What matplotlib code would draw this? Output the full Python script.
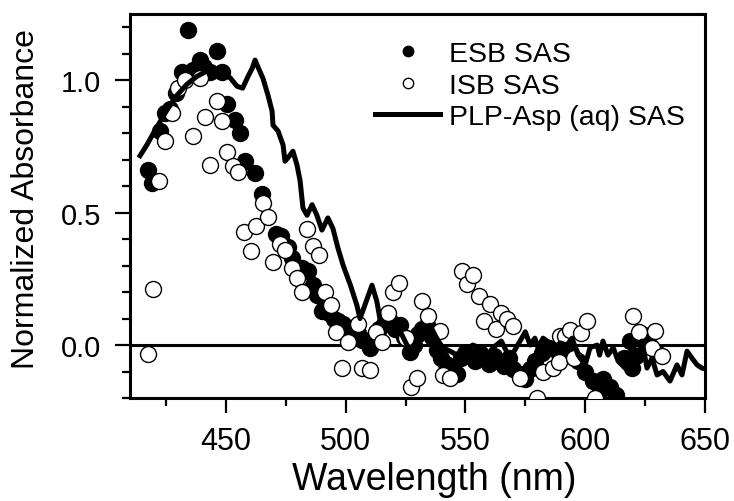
import matplotlib
matplotlib.use("Agg")
import matplotlib.pyplot as plt
from matplotlib.ticker import MultipleLocator, FormatStrFormatter

plt.rcParams["font.family"] = ["Liberation Sans", "DejaVu Sans"]

# ESB SAS (filled circles)
esb_wl = [417.5, 419.2, 422.5, 424.6, 426.5, 429.0, 431.7, 434.2, 436.5, 439.2,
          441.0, 443.4, 446.3, 448.4, 450.5, 453.8, 455.9, 458.0, 462.2, 465.1,
          471.0, 473.0, 476.0, 477.6, 481.8, 484.3, 486.4, 488.0, 490.0, 491.5,
          493.0, 495.0, 497.0, 499.0, 501.0, 503.0, 505.0, 507.0, 510.0, 512.0,
          514.0, 516.0, 518.5, 520.5, 522.7, 524.5, 526.9, 528.5, 530.0, 532.0,
          534.0, 536.0, 538.0, 540.0, 542.0, 544.0, 546.5, 548.0, 550.0, 552.0,
          554.0, 556.0, 558.0, 560.0, 562.0, 564.0, 566.0, 568.0, 570.0, 572.8,
          575.0, 577.0, 579.0, 582.0, 585.0, 588.0, 591.0, 594.0, 597.0, 600.0,
          603.3, 606.0, 607.4, 610.3, 613.0, 616.0, 618.7, 619.5, 621.0, 623.7,
          627.0, 630.0]
esb_abs = [0.66, 0.61, 0.81, 0.875, 0.89, 0.95, 1.03, 1.19, 1.04, 1.075,
           1.05, 1.03, 1.11, 1.03, 0.91, 0.85, 0.80, 0.695, 0.65, 0.57,
           0.42, 0.41, 0.37, 0.33, 0.29, 0.28, 0.225, 0.19, 0.13, 0.15,
           0.12, 0.10, 0.09, 0.08, 0.06, 0.04, 0.045, 0.02, -0.01, 0.03,
           0.06, 0.08, 0.09, 0.06, 0.075, 0.03, -0.025, 0.0, 0.04, 0.06,
           0.075, 0.03, -0.02, -0.05, -0.07, -0.09, -0.11, -0.05, -0.03, -0.04,
           -0.06, -0.03, -0.05, -0.07, -0.04, -0.06, -0.08, -0.05, -0.09, -0.11,
           -0.13, -0.09, -0.06, -0.03, -0.01, -0.02, 0.0, -0.03, -0.06, -0.10,
           -0.135, -0.175, -0.13, -0.16, -0.19, -0.05, 0.015, -0.085, -0.04, 0.04,
           -0.005, -0.03]

# ISB SAS (open circles)
isb_wl = [417.5, 419.6, 422.1, 424.6, 427.5, 430.0, 433.0, 436.3, 439.2, 441.3,
          443.4, 446.3, 448.4, 450.5, 453.0, 455.0, 457.6, 460.5, 462.6, 465.5,
          467.6, 469.7, 472.6, 474.7, 477.6, 479.7, 481.8, 483.9, 486.4, 489.0,
          491.4, 493.9, 496.0, 498.5, 501.0, 505.0, 507.0, 510.0, 512.7, 515.0,
          517.7, 519.8, 522.3, 525.2, 527.3, 529.8, 532.0, 534.2, 539.4, 540.6,
          543.6, 548.6, 550.6, 553.2, 555.7, 557.7, 560.3, 562.7, 564.8, 567.3,
          569.8, 572.8, 580.0, 582.4, 586.5, 589.0, 589.5, 591.5, 593.6, 595.3,
          598.2, 600.7, 604.0, 620.0, 622.4, 627.9, 629.0, 632.0]
isb_abs = [-0.035, 0.21, 0.62, 0.77, 0.875, 0.97, 1.0, 0.79, 1.01, 0.86,
           0.68, 0.92, 0.845, 0.73, 0.675, 0.655, 0.425, 0.355, 0.45, 0.535,
           0.485, 0.315, 0.38, 0.36, 0.29, 0.255, 0.20, 0.44, 0.375, 0.34,
           0.20, 0.15, 0.05, -0.085, 0.01, 0.08, -0.085, -0.095, 0.05, 0.01,
           0.12, 0.20, 0.235, 0.025, -0.16, -0.125, 0.165, 0.11, 0.053, -0.115,
           -0.125, 0.28, 0.23, 0.265, 0.185, 0.09, 0.155, 0.06, 0.12, 0.10,
           0.07, -0.125, -0.2, -0.10, -0.085, -0.065, 0.035, 0.035, 0.057, -0.05,
           0.045, 0.09, -0.2, 0.11, 0.05, -0.01, 0.053, -0.04]

# PLP-Asp (aq) SAS (line)
plp_wl = [414.2, 417.0, 420.4, 425.4, 429.6, 433.8, 438.0, 442.0, 447.6, 451.7,
          454.7, 457.0, 459.3, 461.0, 462.2, 463.4, 465.5, 467.6, 469.3, 469.7,
          471.8, 473.9, 474.7, 476.8, 478.0, 479.7, 481.0, 482.2, 483.9, 486.0,
          488.0, 490.1, 492.6, 494.7, 496.8, 499.0, 502.0, 504.7, 506.0, 508.0,
          511.0, 513.0, 514.3, 516.4, 519.3, 522.7, 525.6, 528.0, 530.2, 532.3,
          535.2, 538.0, 540.6, 543.6, 546.5, 550.6, 553.0, 556.0, 559.0, 561.5,
          565.0, 568.6, 572.8, 575.0, 577.0, 579.0, 580.3, 582.4, 585.3, 587.4,
          589.5, 592.4, 594.5, 597.0, 600.0, 602.0, 605.0, 606.0, 607.4, 609.5,
          611.7, 613.7, 616.6, 619.5, 621.6, 623.7, 625.8, 627.9, 630.0, 632.5,
          635.4, 638.3, 640.4, 642.5, 644.6, 646.7, 648.7, 650.0]
plp_abs = [0.715, 0.755, 0.81, 0.887, 0.943, 0.985, 1.015, 1.034, 1.026, 1.01,
           0.977, 0.97, 1.015, 1.045, 1.076, 1.05, 1.007, 0.943, 0.883, 0.83,
           0.808, 0.755, 0.694, 0.717, 0.732, 0.68, 0.62, 0.517, 0.49, 0.53,
           0.49, 0.434, 0.48, 0.44, 0.366, 0.30, 0.226, 0.15, 0.10, 0.15,
           0.226, 0.166, 0.10, 0.075, 0.064, 0.053, 0.0, -0.023, 0.038, 0.064,
           0.075, 0.026, -0.011, -0.023, -0.038, -0.023, 0.0, -0.01, -0.04, -0.01,
           0.015, -0.05, 0.015, 0.05, 0.0, 0.026, -0.01, 0.026, 0.008, -0.01,
           0.008, 0.0, 0.026, -0.038, -0.075, -0.01, 0.0, -0.038, 0.015, -0.038,
           -0.01, -0.06, -0.087, 0.0, -0.06, 0.015, -0.087, -0.05, -0.113, -0.1,
           -0.136, -0.075, -0.113, -0.023, -0.05, -0.075, -0.087, -0.09]

fig = plt.figure(figsize=(7.34, 5.02), dpi=100)
ax = fig.add_axes([130 / 734, 1 - 399 / 502, 575 / 734, 384 / 502])

ax.axhline(0.0, color="black", lw=2.2, zorder=1)
ax.plot(esb_wl, esb_abs, "o", ms=11.5, mfc="black", mec="black", mew=1.0,
        label="ESB SAS", zorder=2)
ax.plot(isb_wl, isb_abs, "o", ms=11.5, mfc="white", mec="black", mew=1.0,
        label="ISB SAS", zorder=3)
ax.plot(plp_wl, plp_abs, "-", color="black", lw=3.6,
        label="PLP-Asp (aq) SAS", zorder=4)

ax.set_xlim(410, 650)
ax.set_ylim(-0.2, 1.25)
ax.xaxis.set_major_locator(MultipleLocator(50))
ax.xaxis.set_minor_locator(MultipleLocator(25))
ax.yaxis.set_major_locator(MultipleLocator(0.5))
ax.yaxis.set_minor_locator(MultipleLocator(0.1))
ax.yaxis.set_major_formatter(FormatStrFormatter("%.1f"))

for sp in ax.spines.values():
    sp.set_linewidth(2.2)
ax.tick_params(which="major", direction="out", length=11, width=1.6)
ax.tick_params(which="minor", direction="out", length=6, width=1.6)
ax.tick_params(axis="x", which="major", labelsize=22, pad=9)
ax.tick_params(axis="y", which="major", labelsize=21, pad=10)

ax.set_xlabel("Wavelength (nm)", fontsize=27)
ax.xaxis.set_label_coords(0.53, -0.165)
ax.set_ylabel("Normalized Absorbance", fontsize=23)
ax.yaxis.set_label_coords(-0.155, 0.52)

ax.legend(loc="upper left", bbox_to_anchor=(375 / 734, 1 - 42 / 502),
          bbox_transform=fig.transFigure, frameon=False, fontsize=20.5,
          markerscale=0.65, handlelength=2.3, handletextpad=0.3,
          labelspacing=0.2, borderpad=0, borderaxespad=0)

fig.savefig("out.png", dpi=100)
